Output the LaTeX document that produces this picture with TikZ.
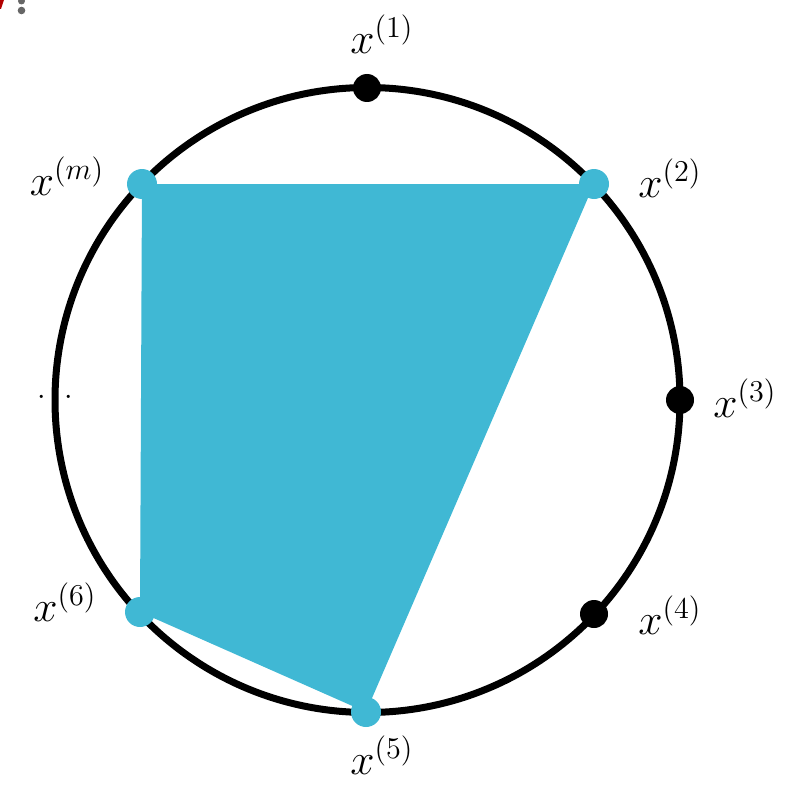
\documentclass[tikz,border=0pt]{standalone}
\usepackage{fontspec}
\begin{document}
\begin{tikzpicture}[x=1pt,y=-1pt,
  ring/.style={draw=black,line width=7pt},
  bdot/.style={circle,fill=black,inner sep=0pt,minimum size=28pt},
  cdot/.style={circle,fill=cyanfill,inner sep=0pt,minimum size=30pt},
  lab/.style={inner sep=0pt,font=\huge,scale=2.1,transform shape}]
\definecolor{cyanfill}{RGB}{64,184,212}
\useasboundingbox (0,0) rectangle (805,789);
% cut-off remnants at top-left
\fill[red!70!black] (0,0) -- (4,0) -- (1,9) -- (0,9) -- cycle;
\fill[gray!80!black] (21.5,1) circle (3.5);
\fill[gray!80!black] (21.5,10.5) circle (3.8);
% ellipsis (middle dot hidden by the circle)
\node[lab,scale=0.7] (dots) at (55,398) {$\cdots$};
% circle
\node[ring,circle,minimum size=625pt,inner sep=0pt] (ring) at (367.5,400) {};
% points
\coordinate (p1) at (367,88);
\coordinate (p2) at (594,184);
\coordinate (p3) at (680,400);
\coordinate (p4) at (594,614);
\coordinate (p5) at (366,712);
\coordinate (p6) at (140,612);
\coordinate (pm) at (142,184);
\fill[cyanfill] (pm) -- (p2) -- (p5) -- (p6) -- cycle;
\node[bdot] (d1) at (p1) {};
\node[bdot] (d3) at (p3) {};
\node[bdot] (d4) at (p4) {};
\node[cdot] (d2) at (p2) {};
\node[cdot] (d5) at (p5) {};
\node[cdot] (d6) at (p6) {};
\node[cdot] (dm) at (pm) {};
% labels
\node[lab] (l1) at (382,34) {$x^{(1)}$};
\node[lab] (l2) at (670,178) {$x^{(2)}$};
\node[lab] (l3) at (745,398) {$x^{(3)}$};
\node[lab] (l4) at (670,615) {$x^{(4)}$};
\node[lab] (l5) at (382,755) {$x^{(5)}$};
\node[lab] (l6) at (65,602) {$x^{(6)}$};
\node[lab] (lm) at (67,176) {$x^{(m)}$};
\end{tikzpicture}
\end{document}
